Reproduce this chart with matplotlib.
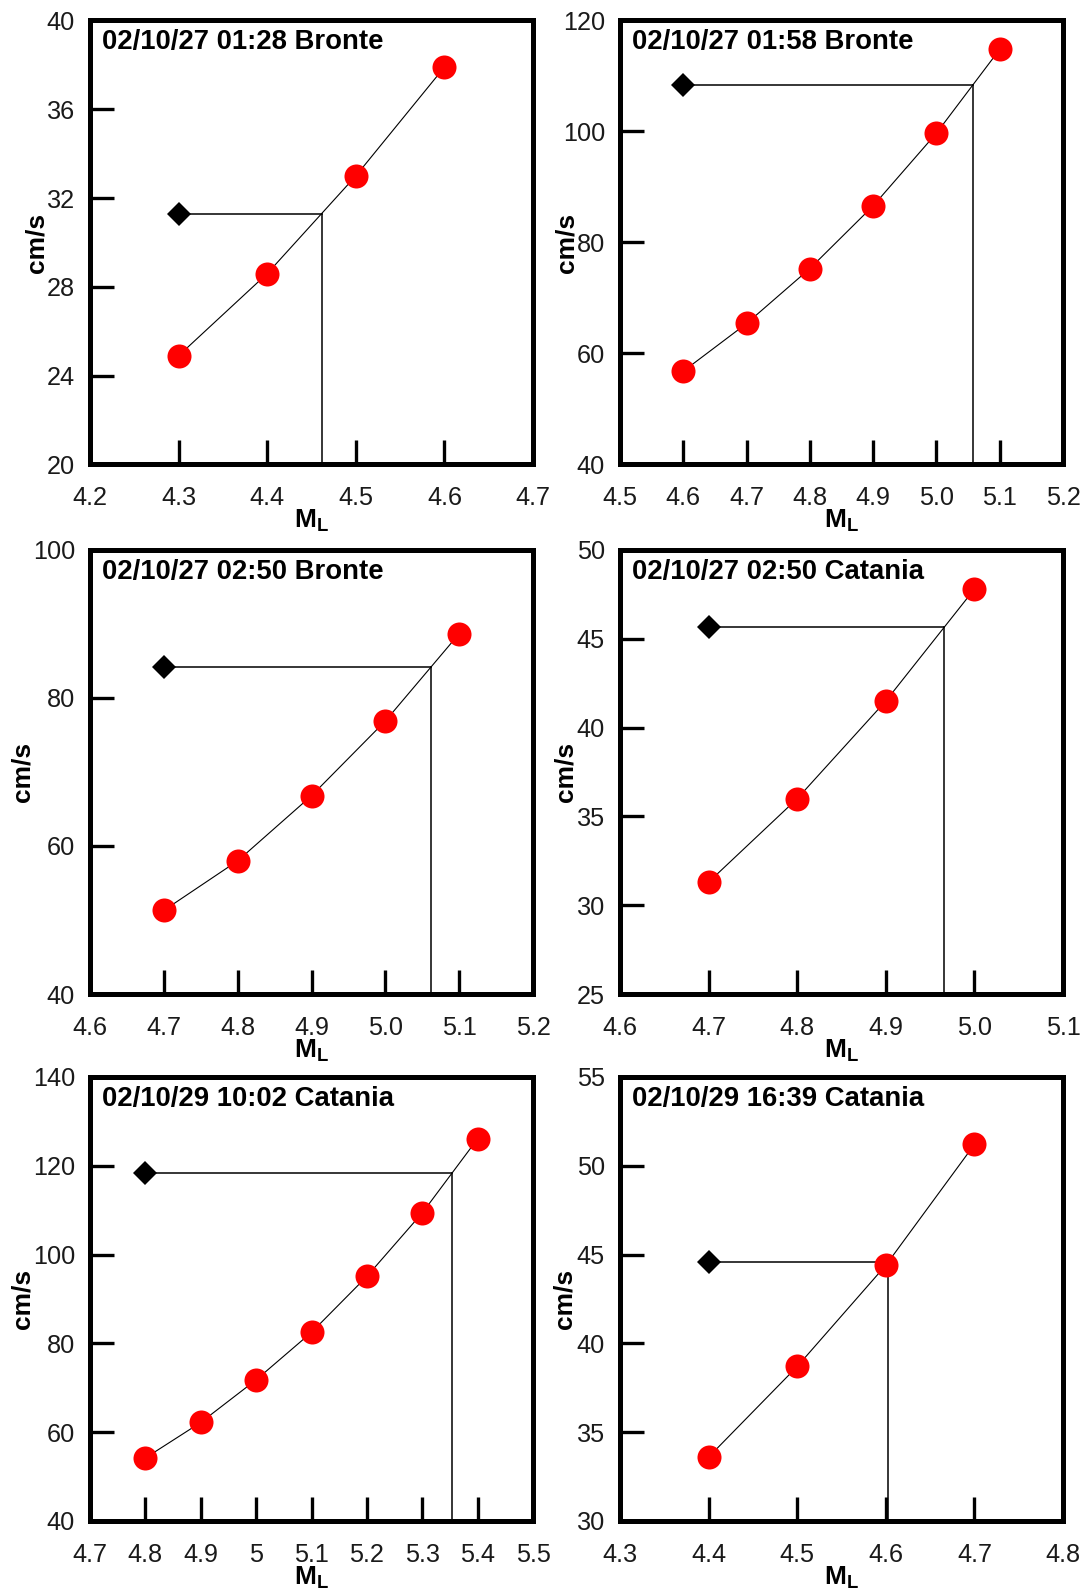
import numpy as np
import matplotlib.pyplot as plt

plt.rcParams['font.family'] = 'Liberation Sans'
plt.rcParams['mathtext.fontset'] = 'custom'
plt.rcParams['mathtext.bf'] = 'Liberation Sans:bold'
plt.rcParams['mathtext.rm'] = 'Liberation Sans'

# event labels
titles = ['02/10/27 01:28 Bronte', '02/10/27 01:58 Bronte',
          '02/10/27 02:50 Bronte', '02/10/27 02:50 Catania',
          '02/10/29 10:02 Catania', '02/10/29 16:39 Catania']

# simulated peak velocity (cm/s) vs magnitude ML
ml1 = [4.3, 4.4, 4.5, 4.6]
vel1 = [24.9, 28.6, 33.0, 37.9]
ml2 = [4.6, 4.7, 4.8, 4.9, 5.0, 5.1]
vel2 = [56.8, 65.4, 75.3, 86.6, 99.7, 114.8]
ml3 = [4.7, 4.8, 4.9, 5.0, 5.1]
vel3 = [51.3, 58.0, 66.8, 76.9, 88.7]
ml4 = [4.7, 4.8, 4.9, 5.0]
vel4 = [31.3, 36.0, 41.5, 47.8]
ml5 = [4.8, 4.9, 5.0, 5.1, 5.2, 5.3, 5.4]
vel5 = [54.2, 62.2, 71.8, 82.5, 95.1, 109.4, 126.1]
ml6 = [4.4, 4.5, 4.6, 4.7]
vel6 = [33.6, 38.7, 44.4, 51.2]

# observed peak (black diamond)
obs_x = [4.3, 4.6, 4.7, 4.7, 4.8, 4.4]
obs_y = [31.3, 108.3, 84.2, 45.65, 118.4, 44.6]

# axis ticks
xt1 = ['4.2', '4.3', '4.4', '4.5', '4.6', '4.7']
xt2 = ['4.5', '4.6', '4.7', '4.8', '4.9', '5.0', '5.1', '5.2']
xt3 = ['4.6', '4.7', '4.8', '4.9', '5.0', '5.1', '5.2']
xt4 = ['4.6', '4.7', '4.8', '4.9', '5.0', '5.1']
xt5 = ['4.7', '4.8', '4.9', '5', '5.1', '5.2', '5.3', '5.4', '5.5']
xt6 = ['4.3', '4.4', '4.5', '4.6', '4.7', '4.8']
yt1 = [20, 24, 28, 32, 36, 40]
yt2 = [40, 60, 80, 100, 120]
yt3 = [40, 60, 80, 100]
yt4 = [25, 30, 35, 40, 45, 50]
yt5 = [40, 60, 80, 100, 120, 140]
yt6 = [30, 35, 40, 45, 50, 55]

mls = [ml1, ml2, ml3, ml4, ml5, ml6]
vels = [vel1, vel2, vel3, vel4, vel5, vel6]
xts = [xt1, xt2, xt3, xt4, xt5, xt6]
yts = [yt1, yt2, yt3, yt4, yt5, yt6]

ylab_x = [-0.093, -0.094, -0.126, -0.097, -0.126, -0.098]

fig = plt.figure(figsize=(10.86, 15.95), dpi=100)
lefts = [0.0829, 0.5709]
bottoms = [0.7088, 0.3768, 0.0464]
w, h = 0.408, 0.2784

for i in range(6):
    ax = fig.add_axes([lefts[i % 2], bottoms[i // 2], w, h])
    x = np.array(mls[i])
    y = np.array(vels[i])
    xt = [float(s) for s in xts[i]]
    yt = yts[i]
    ax.set_xlim(xt[0], xt[-1])
    ax.set_ylim(yt[0], yt[-1])

    # magnitude where the observed value meets the curve
    xm = np.interp(obs_y[i], y, x)
    ax.plot([obs_x[i], xm], [obs_y[i], obs_y[i]], color='black', lw=1.1, zorder=2)
    ax.plot([xm, xm], [obs_y[i], yt[0]], color='black', lw=1.1, zorder=2)
    ax.plot(x, y, '-', color='black', lw=0.8, zorder=3)
    ax.plot(x, y, 'o', ms=17.3, mfc='red', mec='red', mew=0, zorder=4)
    ax.plot(obs_x[i], obs_y[i], 'D', ms=12.3, color='black', mew=0, zorder=5)

    ax.set_xticks(xt)
    ax.set_xticklabels(xts[i])
    ax.set_yticks(yt)
    ax.set_yticklabels([str(v) for v in yt])
    ax.tick_params(direction='in', length=17, width=2.4, labelsize=18.2,
                   labelcolor='#1a1a1a', top=False, right=False)
    ax.tick_params(axis='y', pad=10.8)
    ax.tick_params(axis='x', pad=15.5)
    for sp in ax.spines.values():
        sp.set_linewidth(3.6)

    ax.set_ylabel('cm/s', fontsize=19, fontweight='bold')
    ax.yaxis.set_label_coords(ylab_x[i], 0.5)
    ax.set_xlabel(r'$\mathbf{M}_\mathbf{L}$', fontsize=19)
    ax.xaxis.set_label_coords(0.5, -0.097)

    ax.annotate(titles[i], xy=(0, 1), xycoords='axes fraction',
                xytext=(12, -9), textcoords='offset pixels',
                ha='left', va='top', fontsize=19.8, fontweight='bold')

fig.savefig('out.png', dpi=100)
